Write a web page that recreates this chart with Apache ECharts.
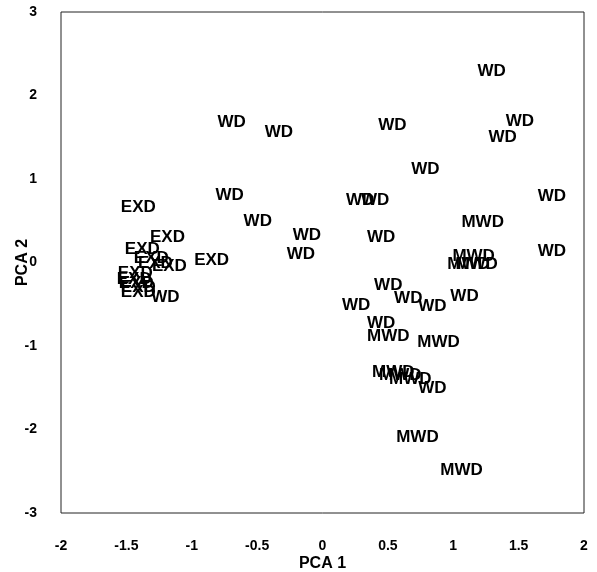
<!DOCTYPE html>
<html>
<head>
<meta charset="utf-8">
<script src="https://cdn.jsdelivr.net/npm/echarts@6/dist/echarts.min.js"></script>
<style>
    html, body { margin: 0; padding: 0; background: #fff; }
    #pca-box { width: 597px; height: 572px; }
</style>
</head>
<body>
<div id="pca-box"></div>
<script>
// PCA 分數 (PCA 1, PCA 2)
var wdPoints = [
    [1.294, 2.287], [1.509, 1.689], [1.378, 1.497], [-0.695, 1.677], [-0.334, 1.557],
    [0.534, 1.641], [0.787, 1.114], [1.754, 0.79], [-0.71, 0.80], [-0.495, 0.49],
    [0.288, 0.742], [0.403, 0.742], [0.449, 0.30], [-0.119, 0.32], [-0.165, 0.10],
    [1.754, 0.13], [0.503, -0.275], [0.257, -0.515], [0.656, -0.431], [0.841, -0.527],
    [1.086, -0.407], [0.449, -0.731], [0.841, -1.509], [-1.202, -0.419]
];
var mwdPoints = [
    [1.225, 0.48], [1.156, 0.072], [1.117, -0.024], [1.179, -0.024],
    [0.503, -0.886], [0.887, -0.958], [0.541, -1.317], [0.595, -1.353],
    [0.672, -1.40], [0.726, -2.096], [1.063, -2.49]
];
var exdPoints = [
    [-1.409, 0.659], [-1.186, 0.299], [-1.378, 0.156], [-1.309, 0.048],
    [-1.278, -0.012], [-1.171, -0.048], [-0.848, 0.024], [-1.432, -0.132],
    [-1.44, -0.204], [-1.424, -0.251], [-1.409, -0.299], [-1.409, -0.359]
];
var groupNames = ['WD', 'MWD', 'EXD'];
var xTicks = [-2, -1.5, -1, -0.5, 0, 0.5, 1, 1.5, 2];
var yTicks = [-3, -2, -1, 0, 1, 2, 3];

pcaChart();

function textSeries(name, points) {
    return {
        name: name,
        type: 'scatter',
        data: points,
        symbolSize: 1,
        itemStyle: { color: 'transparent', opacity: 1 },
        label: {
            show: true,
            position: 'inside',
            formatter: name,
            color: '#000',
            opacity: 1,
            fontFamily: 'Liberation Sans',
            fontWeight: 'bold',
            fontSize: 17
        }
    };
}

function pcaChart() {
    var chartDom = document.getElementById('pca-box');
    var myChart = echarts.init(chartDom);
    var option;

    var axisFont = { color: '#000', fontFamily: 'Liberation Sans', fontWeight: 'bold', fontSize: 14 };

    option = {
        animation: false,
        grid: {
            left: 61, right: 13, top: 12, bottom: 59,
            containLabel: false,
            outerBoundsMode: 'none',
            show: true, borderColor: '#222', borderWidth: 1
        },
        xAxis: {
            type: 'value',
            min: xTicks[0],
            max: xTicks[xTicks.length - 1],
            interval: 0.5,
            name: 'PCA 1',
            nameLocation: 'middle',
            nameGap: 43,
            nameMoveOverlap: false,
            nameTextStyle: { color: '#000', fontFamily: 'Liberation Sans', fontWeight: 'bold', fontSize: 16 },
            axisLine: { show: false },
            axisTick: { show: false },
            splitLine: { show: false },
            axisLabel: Object.assign({ margin: 26 }, axisFont)
        },
        yAxis: {
            type: 'value',
            min: yTicks[0],
            max: yTicks[yTicks.length - 1],
            interval: 1,
            name: 'PCA 2',
            nameLocation: 'middle',
            nameGap: 30,
            nameMoveOverlap: false,
            nameTextStyle: { color: '#000', fontFamily: 'Liberation Sans', fontWeight: 'bold', fontSize: 16 },
            axisLine: { show: false },
            axisTick: { show: false },
            splitLine: { show: false },
            axisLabel: Object.assign({ margin: 24 }, axisFont)
        },
        series: [
            textSeries(groupNames[0], wdPoints),
            textSeries(groupNames[1], mwdPoints),
            textSeries(groupNames[2], exdPoints)
        ]
    };

    option && myChart.setOption(option);
}
</script>
</body>
</html>
